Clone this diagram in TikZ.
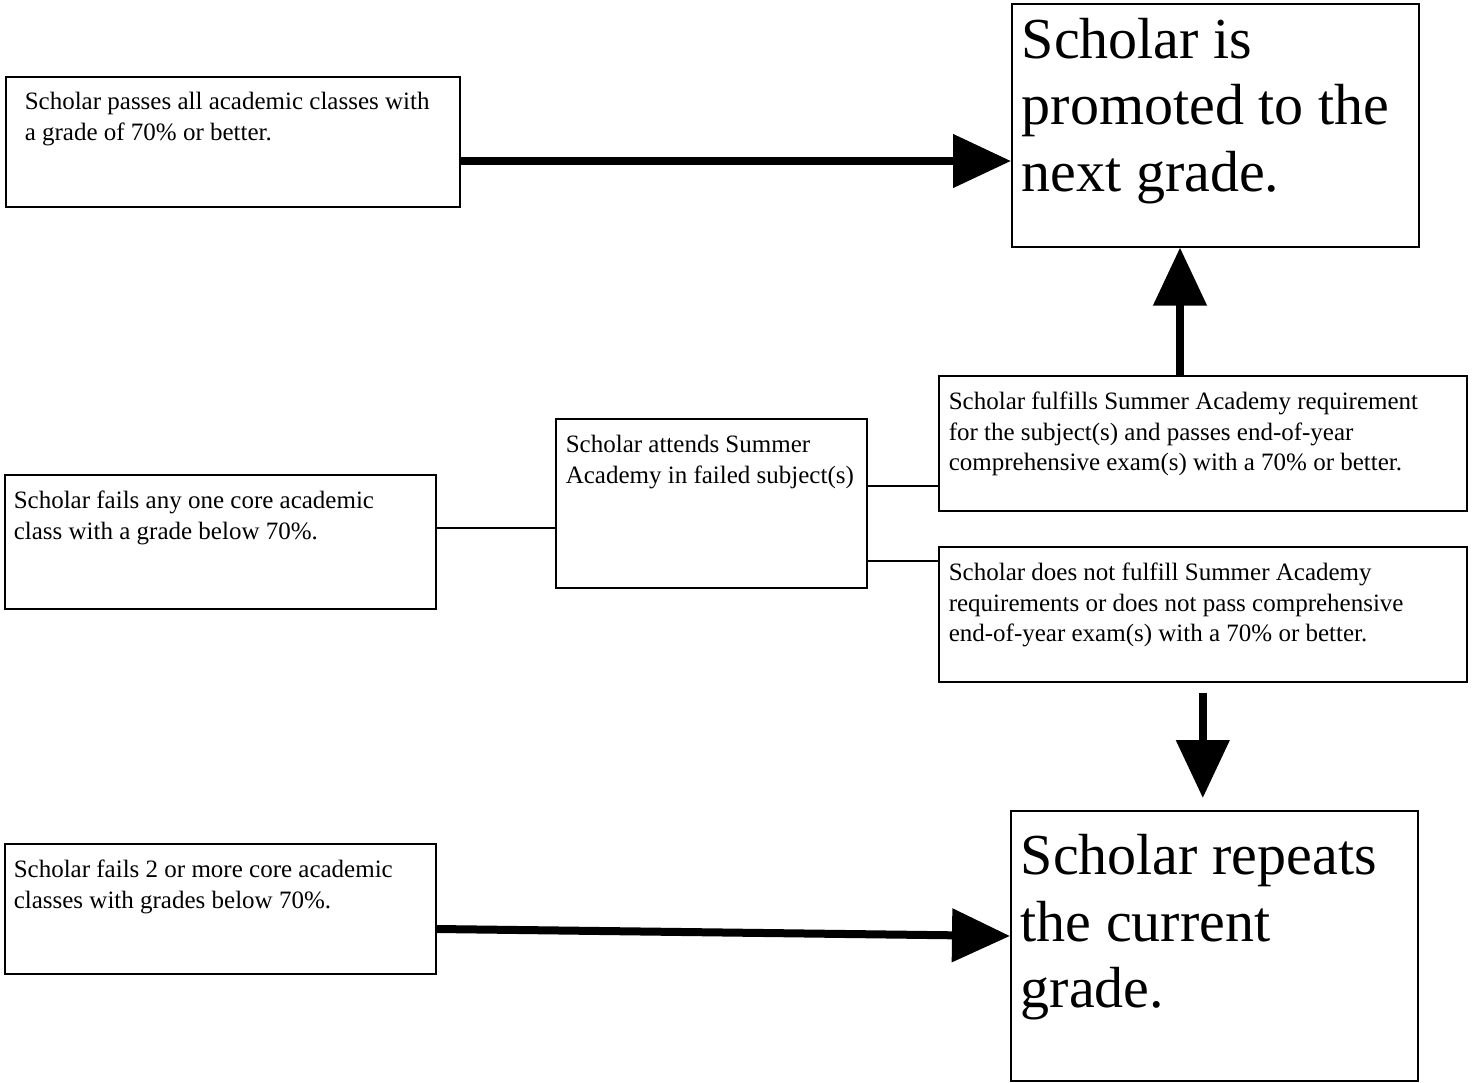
\documentclass[tikz,border=0pt]{standalone}
\usepackage{fontspec}
\setmainfont{Liberation Serif}
\usetikzlibrary{arrows.meta,calc}
\newcommand\bx[6]{\parbox[c][#2][t]{#1}{#5\leftskip=#3\relax\vspace*{#4}\strut #6\par}}
\newcommand\smallf{\fontsize{25pt}{30.5pt}\selectfont}
\newcommand\bigf{\fontsize{58pt}{66.5pt}\selectfont}
\tikzset{
  box/.style={draw, line width=1.6pt, anchor=north west, inner sep=0pt},
  thin/.style={line width=1.6pt},
  thickarrow/.style={line width=8pt, -{Triangle[length=58pt,width=52pt]}}
}
\begin{document}
\begin{tikzpicture}[x=1pt,y=-1pt]
\useasboundingbox (0,0) rectangle (1473,1082);
\node[box] (A) at (5,76) {\bx{454pt}{130pt}{19pt}{11.8pt}{\smallf}{Scholar passes all academic classes with\\a grade of 70\% or better.}};
\node[box] (P) at (1011,3) {\bx{407pt}{243pt}{10pt}{8pt}{\bigf}{Scholar is\\promoted to the\\next grade.}};
\node[box] (F) at (938,375) {\bx{528pt}{135pt}{10pt}{12.6pt}{\smallf}{Scholar fulfills Summer Academy requirement\\for the subject(s) and passes end-of-year\\comprehensive exam(s) with a 70\% or better.}};
\node[box] (M) at (555,418) {\bx{311pt}{169pt}{10pt}{12.6pt}{\smallf}{Scholar attends Summer\\Academy in failed subject(s)}};
\node[box] (L) at (4,474) {\bx{431pt}{134pt}{9pt}{12.6pt}{\smallf}{Scholar fails any one core academic\\class with a grade below 70\%.}};
\node[box] (N) at (938,546) {\bx{528pt}{135pt}{10pt}{12.6pt}{\smallf}{Scholar does not fulfill Summer Academy\\requirements or does not pass comprehensive\\end-of-year exam(s) with a 70\% or better.}};
\node[box] (R) at (1010,810) {\bx{407pt}{270pt}{10pt}{17.5pt}{\bigf}{Scholar repeats\\the current\\grade.}};
\node[box] (B) at (4,843) {\bx{431pt}{130pt}{9pt}{12.6pt}{\smallf}{Scholar fails 2 or more core academic\\classes with grades below 70\%.}};

\coordinate (a1) at ($(A.north east)+(0,85)$);
\draw[thickarrow] (a1) -- (P.west |- a1);
\coordinate (f1) at ($(F.north west)+(242,0)$);
\draw[thickarrow] (f1) -- (P.south -| f1);
\draw[thickarrow, shorten <=10pt, shorten >=12pt] (N.south) -- (R.north -| N.south);
\draw[thickarrow] ($(B.north east)+(0,86)$) -- ($(R.north west)+(0,126)$);

\coordinate (l1) at ($(L.north east)+(0,54)$);
\draw[thin] (l1) -- (M.west |- l1);
\coordinate (m1) at ($(M.north east)+(0,68)$);
\draw[thin] (m1) -- (F.west |- m1);
\coordinate (m2) at ($(M.north east)+(0,143)$);
\draw[thin] (m2) -- (N.west |- m2);
\end{tikzpicture}
\end{document}
